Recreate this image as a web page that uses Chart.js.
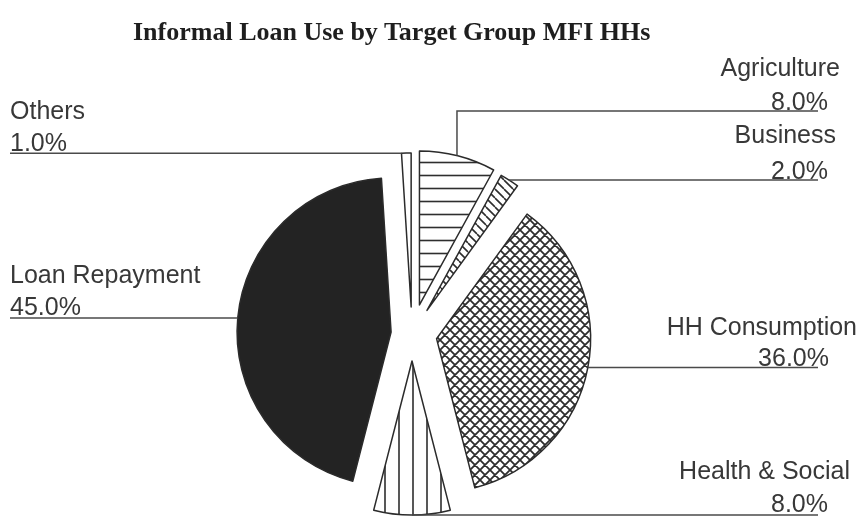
<!DOCTYPE html>
<html>
<head>
<meta charset="utf-8">
<script src="https://cdn.jsdelivr.net/npm/chart.js@4/dist/chart.umd.min.js"></script>
<style>
  html, body { margin: 0; padding: 0; background: #ffffff; }
  #wrap { position: relative; width: 867px; height: 519px; overflow: hidden; background: #fff; }
  #c { position: absolute; left: 0; top: 0; }
  #title { position: absolute; left: 133px; top: 17px; font: bold 26px/30px "Liberation Serif", serif; color: #1e1e1e; white-space: nowrap; }
</style>
</head>
<body>
<div id="wrap">
  <canvas id="c" width="867" height="519"></canvas>
  <div id="title">Informal Loan Use by Target Group MFI HHs</div>
</div>
<script>
// ---- data ----
const categories = ['Agriculture', 'Business', 'HH Consumption', 'Health & Social', 'Loan Repayment', 'Others'];
const shares = [8.0, 2.0, 36.0, 8.0, 45.0, 1.0];
const pctLabels = ['8.0%', '2.0%', '36.0%', '8.0%', '45.0%', '1.0%'];

// ---- style ----
const explode = [30, 28, 25, 27, 21, 27];        // px each slice is pulled out
const fillKinds = ['h', 'd', 'x', 'v', 'solid', 'blank'];
const leader = [
  { deg: 14.1,  elbowY: 111, endX: 818, align: 'right', tx: [840, 828], ty: [76, 110] },
  { deg: 32.1,  endX: 818, align: 'right', tx: [836, 828], ty: [143, 179] },
  { deg: 100.8, endX: 818, align: 'right', tx: [857, 829], ty: [335, 366] },
  { deg: 180,   endX: 818, align: 'right', tx: [850, 828], ty: [479, 512] },
  { deg: 275.2, endX: 10,  align: 'left',  tx: [10, 10],   ty: [283, 315] },
  { deg: 356.4, endX: 10,  align: 'left',  tx: [10, 10],   ty: [119, 151] }
];

function makePattern(kind) {
  if (kind === 'solid') return '#232323';
  if (kind === 'blank') return '#ffffff';
  const s = { h: 13, d: 9, x: 10, v: 14 }[kind];
  const c = document.createElement('canvas');
  c.width = s; c.height = s;
  const g = c.getContext('2d');
  g.fillStyle = '#ffffff';
  g.fillRect(0, 0, s, s);
  g.strokeStyle = '#2e2e2e';
  g.lineWidth = kind === 'x' ? 1.8 : 1.6;
  g.beginPath();
  if (kind === 'h') { g.moveTo(0, s / 2); g.lineTo(s, s / 2); }
  if (kind === 'v') { g.moveTo(s / 2, 0); g.lineTo(s / 2, s); }
  if (kind === 'd' || kind === 'x') {
    for (let k = -1; k <= 1; k++) { g.moveTo(k * s, 0); g.lineTo(k * s + s, s); }
  }
  if (kind === 'x') {
    for (let k = -1; k <= 1; k++) { g.moveTo(k * s, s); g.lineTo(k * s + s, 0); }
  }
  g.stroke();
  return g.createPattern(c, 'repeat');
}

const explodePlugin = {
  id: 'explodeSlices',
  afterDatasetUpdate(chart, args) {
    args.meta.data.forEach((arc, i) => {
      const mid = (arc.startAngle + arc.endAngle) / 2;
      arc.x += Math.cos(mid) * explode[i];
      arc.y += Math.sin(mid) * explode[i];
    });
  }
};

const labelPlugin = {
  id: 'leaderLabels',
  afterDatasetsDraw(chart) {
    const ctx = chart.ctx;
    const meta = chart.getDatasetMeta(0);
    ctx.save();
    meta.data.forEach((arc, i) => {
      const L = leader[i];
      const a = L.deg * Math.PI / 180 - Math.PI / 2;
      const px = arc.x + arc.outerRadius * Math.cos(a);
      const py = arc.y + arc.outerRadius * Math.sin(a);
      ctx.strokeStyle = '#4a4a4a';
      ctx.lineWidth = 1.5;
      ctx.beginPath();
      ctx.moveTo(px, py);
      let y = py;
      if (L.elbowY !== undefined) { ctx.lineTo(px, L.elbowY); y = L.elbowY; }
      ctx.lineTo(L.endX, y);
      ctx.stroke();
      ctx.fillStyle = '#383838';
      ctx.font = '25px "Liberation Sans", Arial, sans-serif';
      ctx.textAlign = L.align;
      ctx.textBaseline = 'alphabetic';
      ctx.fillText(categories[i], L.tx[0], L.ty[0]);
      ctx.fillText(pctLabels[i], L.tx[1], L.ty[1]);
    });
    ctx.restore();
  }
};

new Chart(document.getElementById('c'), {
  type: 'pie',
  data: {
    labels: categories,
    datasets: [{
      data: shares,
      backgroundColor: fillKinds.map(makePattern),
      borderColor: '#2b2b2b',
      borderWidth: 1.5,
      borderJoinStyle: 'round',
      radius: 154
    }]
  },
  options: {
    responsive: false,
    animation: false,
    events: [],
    radius: 154,
    layout: { padding: { left: 0, right: 43, top: 149, bottom: 0 } },
    plugins: {
      legend: { display: false },
      tooltip: { enabled: false },
      title: { display: false }
    }
  },
  plugins: [explodePlugin, labelPlugin]
});
</script>
</body>
</html>
